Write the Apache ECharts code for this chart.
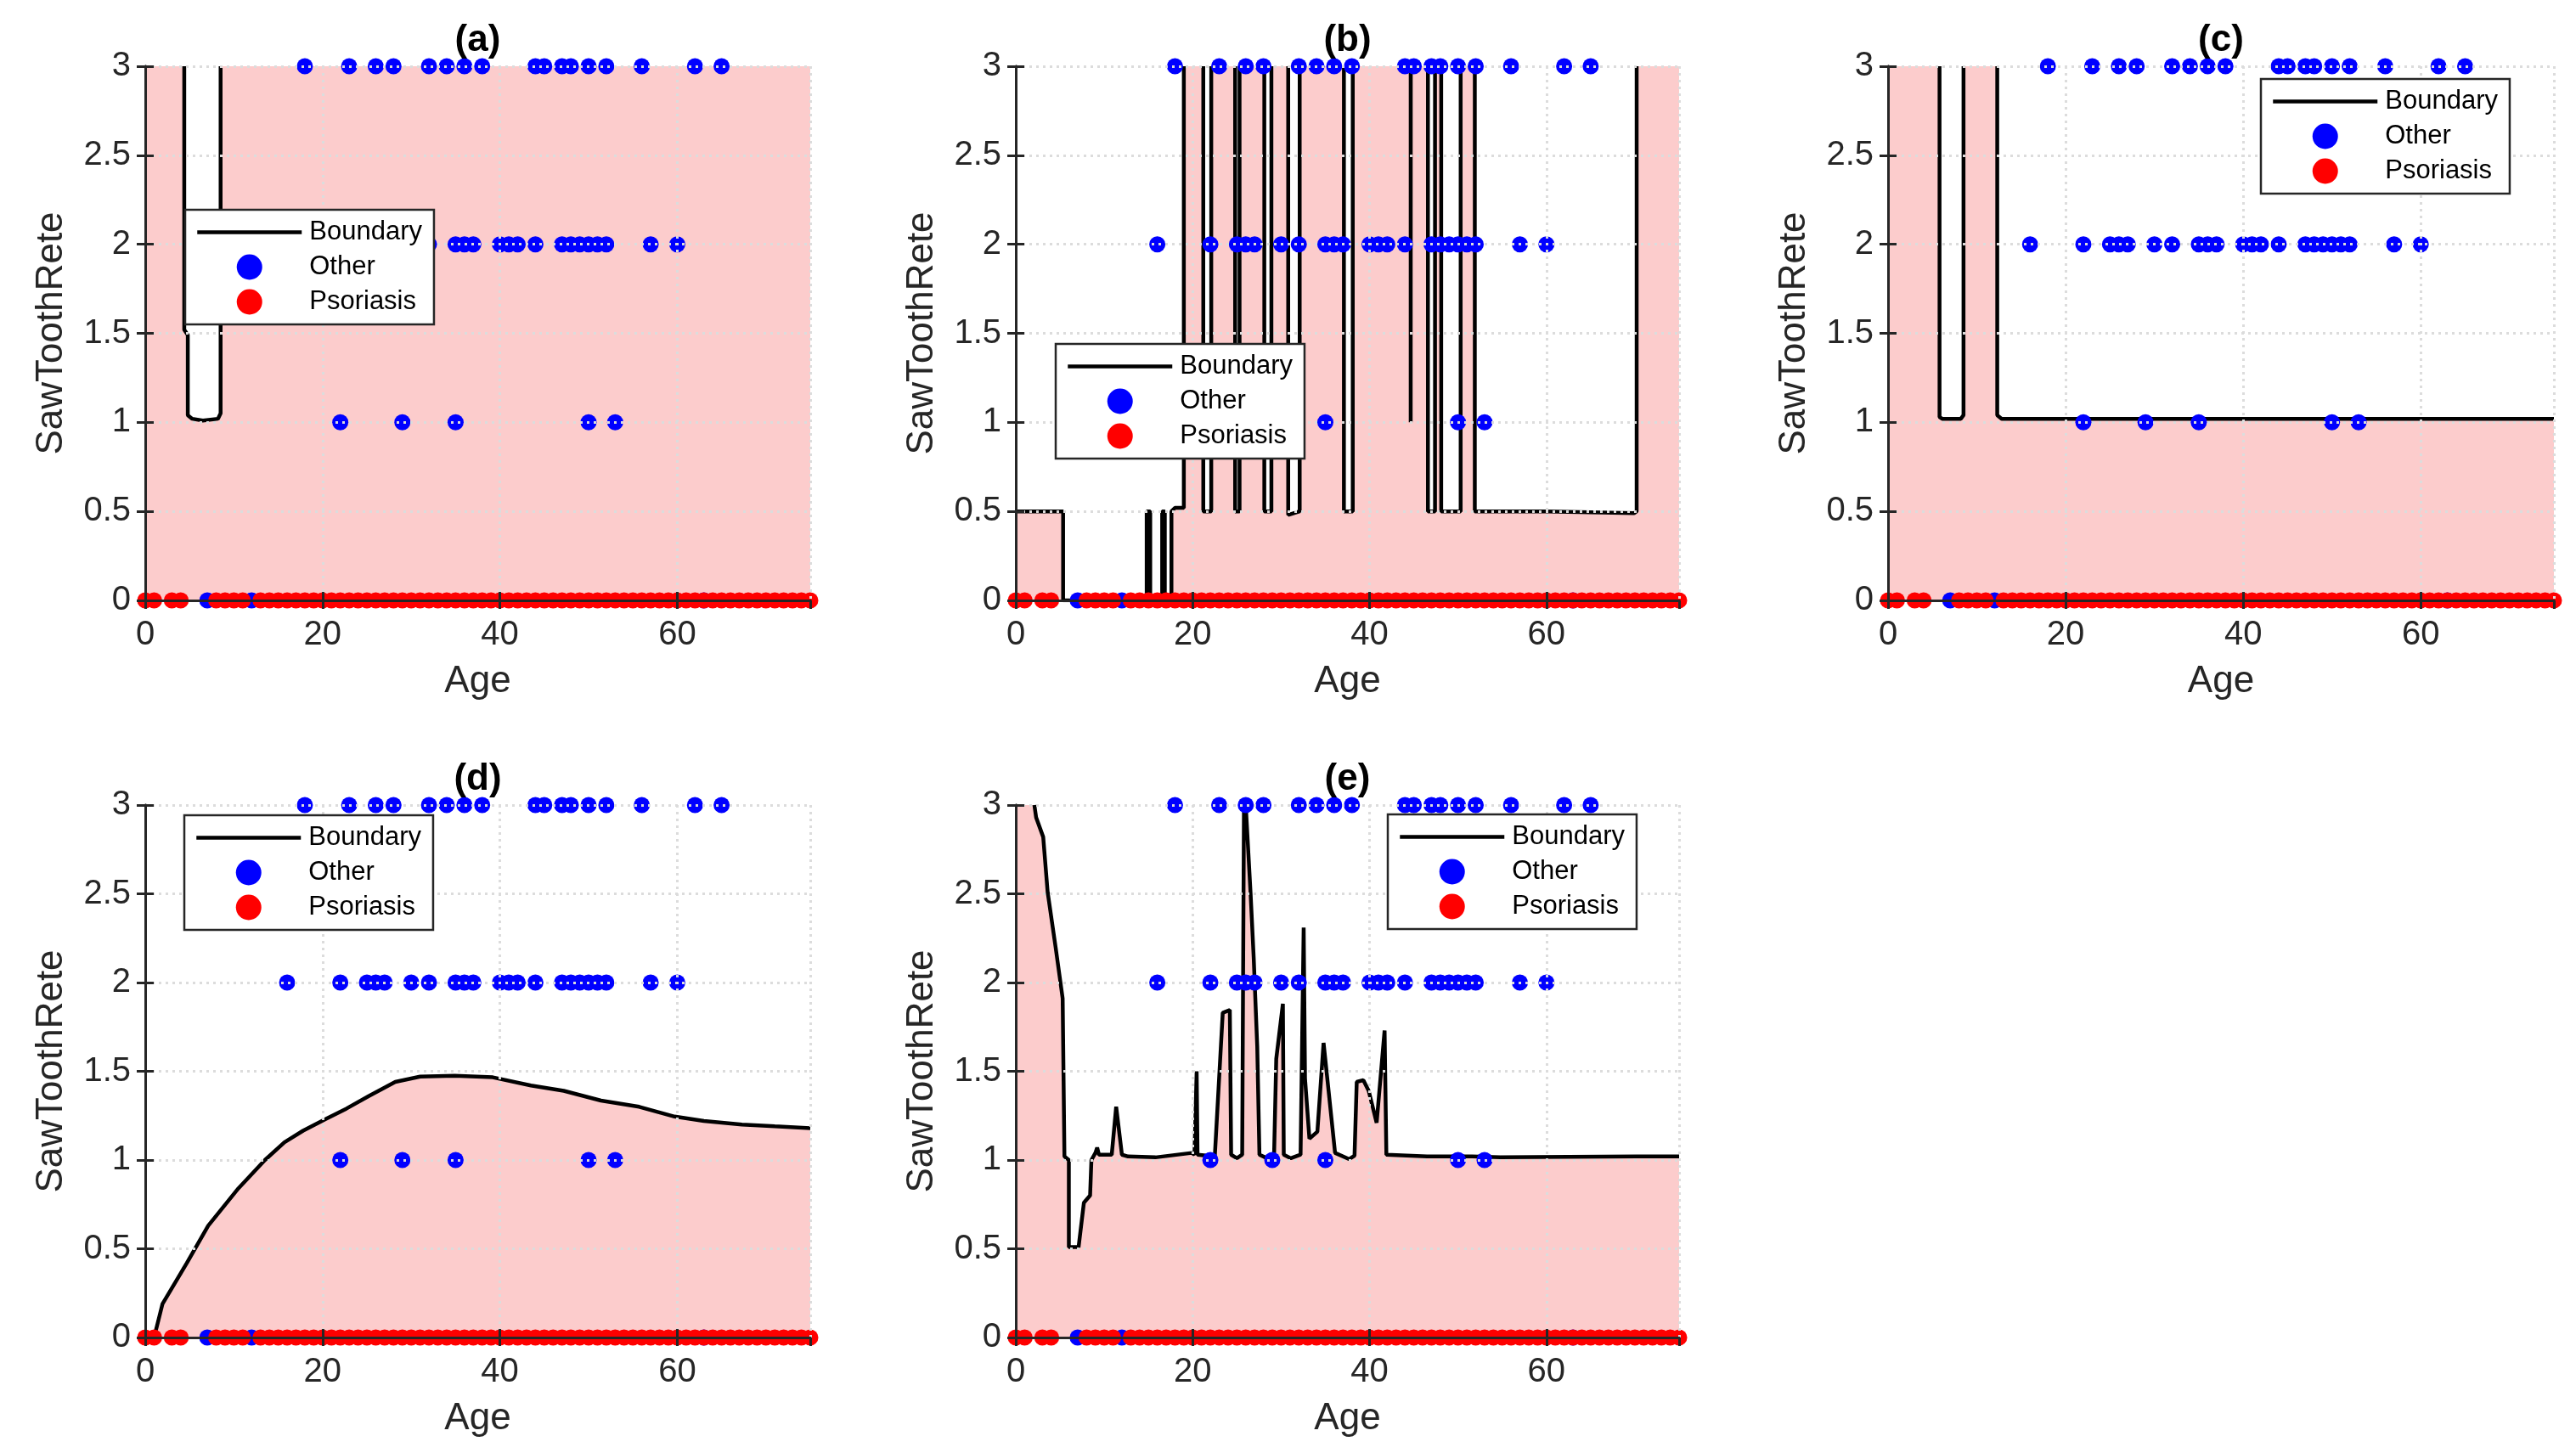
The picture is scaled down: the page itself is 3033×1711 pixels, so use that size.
<!DOCTYPE html>
<html>
<head>
<meta charset="utf-8">
<script src="https://cdn.jsdelivr.net/npm/echarts@6/dist/echarts.min.js"></script>
<style>
html,body{margin:0;padding:0;background:#ffffff;}
#chart{width:3033px;height:1711px;}
</style>
</head>
<body>
<div id="chart"></div>
<script>
// ---------------- data ----------------
const panelTitles = ['(a)', '(b)', '(c)', '(d)', '(e)'];
const xAxisName = 'Age';
const yAxisName = 'SawToothRete';
const legendNames = ['Boundary', 'Other', 'Psoriasis'];
const xMin = 0, xMax = 75, xStep = 20;      // x tick labels 0,20,40,60
const yMin = 0, yMax = 3, yStep = 0.5;      // y tick labels 0 ... 3

// class "Other" (blue)
const otherAge = [18, 23, 26, 28, 32, 34, 36, 38, 44, 45, 47, 48, 50, 52, 56, 62, 65,
                  16, 22, 25, 26, 27, 30, 32, 35, 36, 37, 40, 41, 42, 44, 47, 48, 49, 50, 51, 52, 57, 60,
                  22, 29, 35, 50, 53,
                  7, 12, 63];
const otherRete = [3, 3, 3, 3, 3, 3, 3, 3, 3, 3, 3, 3, 3, 3, 3, 3, 3,
                   2, 2, 2, 2, 2, 2, 2, 2, 2, 2, 2, 2, 2, 2, 2, 2, 2, 2, 2, 2, 2, 2,
                   1, 1, 1, 1, 1,
                   0, 0, 0];

// class "Psoriasis" (red)
const psoriasisAge = [0, 1, 3, 4, 8, 9, 10, 11, 13, 14, 15, 16, 17, 18, 19, 20, 21, 22, 23, 24, 25,
                      26, 27, 28, 29, 30, 31, 32, 33, 34, 35, 36, 37, 38, 39, 40, 41, 42, 43, 44, 45,
                      46, 47, 48, 49, 50, 51, 52, 53, 54, 55, 56, 57, 58, 59, 60, 61, 62, 63, 64, 65,
                      66, 67, 68, 69, 70, 71, 72, 73, 74, 75];
const psoriasisRete = [0, 0, 0, 0, 0, 0, 0, 0, 0, 0, 0, 0, 0, 0, 0, 0, 0, 0, 0, 0, 0,
                       0, 0, 0, 0, 0, 0, 0, 0, 0, 0, 0, 0, 0, 0, 0, 0, 0, 0, 0, 0,
                       0, 0, 0, 0, 0, 0, 0, 0, 0, 0, 0, 0, 0, 0, 0, 0, 0, 0, 0, 0,
                       0, 0, 0, 0, 0, 0, 0, 0, 0, 0];

// decision boundaries (Age, SawToothRete); region below = Psoriasis
const boundaryA = [[0, 3], [4.4, 3], [4.4, 1.52], [4.8, 1.49], [4.8, 1.04], [5.3, 1.02], [6.5, 1.01],
                   [8.2, 1.02], [8.5, 1.05], [8.5, 3], [75, 3]];
const boundaryB = [[0, 0.5], [5.35, 0.5], [5.35, 0], [14.8, 0], [14.8, 0.5], [15.2, 0.5], [15.2, 0],
                   [16.55, 0], [16.55, 0.5], [16.85, 0.5], [16.85, 0], [17.6, 0], [17.6, 0.5], [18.0, 0.52],
                   [19.0, 0.52], [19.0, 3], [21.2, 3], [21.2, 0.5], [22.1, 0.5], [22.1, 3],
                   [24.8, 3], [24.8, 0.5], [25.3, 0.5], [25.3, 3], [28.1, 3], [28.1, 0.5], [28.9, 0.5], [28.9, 3],
                   [30.8, 3], [30.8, 0.48], [32.1, 0.5], [32.1, 3], [37.1, 3], [37.1, 0.5], [38.1, 0.5], [38.1, 3],
                   [44.65, 3], [44.65, 1.0], [44.66, 3], [46.6, 3], [46.6, 0.5], [47.4, 0.5], [47.4, 3],
                   [48.1, 3], [48.1, 0.5], [50.3, 0.5], [50.3, 3], [51.9, 3], [51.9, 0.5], [60, 0.5],
                   [69.9, 0.49], [70.2, 0.5], [70.2, 3], [75, 3]];
const boundaryC = [[0, 3], [5.8, 3], [5.8, 1.03], [6.1, 1.02], [8.2, 1.02], [8.5, 1.04], [8.5, 3],
                   [12.3, 3], [12.3, 1.04], [12.8, 1.02], [75, 1.02]];
const boundaryD = [[1.0, 0], [1.95, 0.19], [4.7, 0.42], [7.1, 0.63], [10.5, 0.84], [13.5, 1.0], [15.7, 1.1],
                   [17.8, 1.165], [20.3, 1.23], [22.7, 1.29], [25.2, 1.36], [28.2, 1.44], [31.0, 1.47],
                   [34.9, 1.475], [39.2, 1.466], [43.5, 1.42], [47.2, 1.39], [51.4, 1.335], [55.7, 1.3],
                   [59.7, 1.245], [63.0, 1.22], [67.3, 1.2], [71.0, 1.19], [75, 1.18]];
const boundaryE = [[0, 3], [2.1, 3], [2.3, 2.93], [3.1, 2.82], [3.6, 2.51], [4.5, 2.2], [5.3, 1.91],
                   [5.5, 1.02], [6.0, 1.0], [6.0, 0.51], [7.1, 0.51], [7.7, 0.76], [8.4, 0.8], [8.55, 1.0],
                   [9.0, 1.04], [9.2, 1.07], [9.4, 1.03], [10.85, 1.03], [11.35, 1.3], [12.0, 1.03],
                   [12.7, 1.02], [15.8, 1.015], [19.9, 1.04], [20.2, 1.03], [20.45, 1.5], [20.55, 1.03],
                   [22.5, 1.02], [23.4, 1.83], [24.2, 1.845], [24.35, 1.03], [25.0, 1.01], [25.6, 1.03],
                   [25.8, 3.0], [26.0, 3.0], [26.55, 2.5], [26.9, 2.14], [27.3, 1.64], [27.55, 1.03],
                   [28.2, 1.015], [29.2, 1.02], [29.45, 1.57], [30.2, 1.88], [30.3, 1.03], [31.1, 1.01],
                   [32.2, 1.03], [32.55, 2.31], [32.7, 1.46], [33.2, 1.12], [34.1, 1.16], [34.8, 1.66],
                   [36.1, 1.04], [37.7, 1.005], [38.3, 1.025], [38.55, 1.44], [39.3, 1.45], [39.9, 1.39],
                   [40.8, 1.21], [41.7, 1.73], [41.9, 1.03], [44.2, 1.025], [46.5, 1.02], [51.6, 1.02],
                   [54.8, 1.015], [70.2, 1.02], [75, 1.02]];
const boundaries = [boundaryA, boundaryB, boundaryC, boundaryD, boundaryE];

// ---------------- layout / style ----------------
const FONT = '"Liberation Sans", Arial, Helvetica, sans-serif';
const AXIS_COLOR = '#262626';
const PINK = '#fccccc';
const grids = [
  {left: 171,  top: 78,  width: 783, height: 629},
  {left: 1196, top: 78,  width: 781, height: 629},
  {left: 2223, top: 78,  width: 784, height: 629},
  {left: 171,  top: 948, width: 783, height: 627},
  {left: 1196, top: 948, width: 781, height: 627}
];
const legendPos = [[218, 247], [1243, 405], [2662, 93], [217, 960], [1634, 959]];

function breakAtTop(pts) {
  const out = [];
  pts.forEach((p, i) => {
    if (i > 0 && pts[i - 1][1] >= yMax && p[1] >= yMax) out.push(['-', '-']);
    out.push(p);
  });
  return out;
}

const otherData = otherAge.map((a, i) => [a, otherRete[i]]);
const psoriasisData = psoriasisAge.map((a, i) => [a, psoriasisRete[i]]);

const option = {
  animation: false,
  backgroundColor: '#ffffff',
  title: [], grid: [], xAxis: [], yAxis: [], legend: [], series: []
};

const tickStyle = {show: true, inside: true, length: 10, lineStyle: {color: AXIS_COLOR, width: 3}};
const lineAxis = {show: true, lineStyle: {color: AXIS_COLOR, width: 3}};
const splitStyle = {show: true, lineStyle: {color: '#dcdcdc', width: 3, type: [3, 5], cap: 'butt'}};

grids.forEach((g, i) => {
  option.grid.push({left: g.left, top: g.top, width: g.width, height: g.height, containLabel: false, show: false});
  option.title.push({
    text: panelTitles[i], left: g.left + g.width / 2, top: g.top - 52, textAlign: 'center', padding: 0,
    textStyle: {fontSize: 44, fontWeight: 'bold', color: '#000', fontFamily: FONT}
  });
  // bottom x axis
  option.xAxis.push({
    type: 'value', gridIndex: i, position: 'bottom', min: xMin, max: xMax, interval: xStep, z: 6,
    name: xAxisName, nameLocation: 'middle', nameGap: 74,
    nameTextStyle: {fontSize: 44, color: AXIS_COLOR, fontFamily: FONT},
    axisLine: lineAxis, axisTick: tickStyle,
    axisLabel: {fontSize: 40, color: AXIS_COLOR, fontFamily: FONT, margin: 21, showMaxLabel: false},
    splitLine: splitStyle
  });
  // top x axis (box + ticks)
  option.xAxis.push({
    type: 'value', gridIndex: i, position: 'top', min: xMin, max: xMax, interval: xStep, z: 6,
    axisLine: lineAxis, axisTick: tickStyle, axisLabel: {show: false}, splitLine: {show: false}
  });
  // left y axis
  option.yAxis.push({
    type: 'value', gridIndex: i, position: 'left', min: yMin, max: yMax, interval: yStep, z: 6,
    name: yAxisName, nameLocation: 'middle', nameGap: 88,
    nameTextStyle: {fontSize: 44, color: AXIS_COLOR, fontFamily: FONT},
    axisLine: lineAxis, axisTick: tickStyle,
    axisLabel: {fontSize: 40, color: AXIS_COLOR, fontFamily: FONT, margin: 17},
    splitLine: splitStyle
  });
  // right y axis (box + ticks)
  option.yAxis.push({
    type: 'value', gridIndex: i, position: 'right', min: yMin, max: yMax, interval: yStep, z: 6,
    axisLine: lineAxis, axisTick: tickStyle, axisLabel: {show: false}, splitLine: {show: false}
  });

  option.legend.push({
    left: legendPos[i][0], top: legendPos[i][1], orient: 'vertical',
    data: [
      {name: legendNames[0], itemStyle: {opacity: 0}, lineStyle: {width: 4.5, color: '#000'}},
      {name: legendNames[1]},
      {name: legendNames[2]}
    ],
    itemWidth: 123, itemHeight: 30, itemGap: 10, selectedMode: false,
    padding: [11, 14, 11, 12], backgroundColor: '#ffffff', borderColor: AXIS_COLOR, borderWidth: 2.5,
    borderRadius: 0, z: 20,
    textStyle: {fontSize: 31, color: '#000', fontFamily: FONT, lineHeight: 30, padding: [0, 0, 0, 4]}
  });

  const xi = 2 * i, yi = 2 * i;
  // shaded psoriasis region
  option.series.push({
    name: 'Region', type: 'line', xAxisIndex: xi, yAxisIndex: yi, data: boundaries[i],
    symbol: 'none', lineStyle: {width: 0, opacity: 0}, areaStyle: {color: PINK, opacity: 1},
    silent: true, z: 1
  });
  // boundary line
  option.series.push({
    name: legendNames[0], type: 'line', xAxisIndex: xi, yAxisIndex: yi, data: breakAtTop(boundaries[i]),
    symbol: 'none', connectNulls: false, lineStyle: {color: '#000', width: 4.5}, itemStyle: {color: '#000'},
    z: 3
  });
  option.series.push({
    name: legendNames[1], type: 'scatter', xAxisIndex: xi, yAxisIndex: yi, data: otherData,
    symbol: 'circle', symbolSize: 19, itemStyle: {color: '#0000ff', opacity: 1}, clip: false, z: 4
  });
  option.series.push({
    name: legendNames[2], type: 'scatter', xAxisIndex: xi, yAxisIndex: yi, data: psoriasisData,
    symbol: 'circle', symbolSize: 19, itemStyle: {color: '#ff0000', opacity: 1}, clip: false, z: 5
  });
});

const chart = echarts.init(document.getElementById('chart'), null, {renderer: 'canvas', width: 3033, height: 1711});
chart.setOption(option);
</script>
</body>
</html>
